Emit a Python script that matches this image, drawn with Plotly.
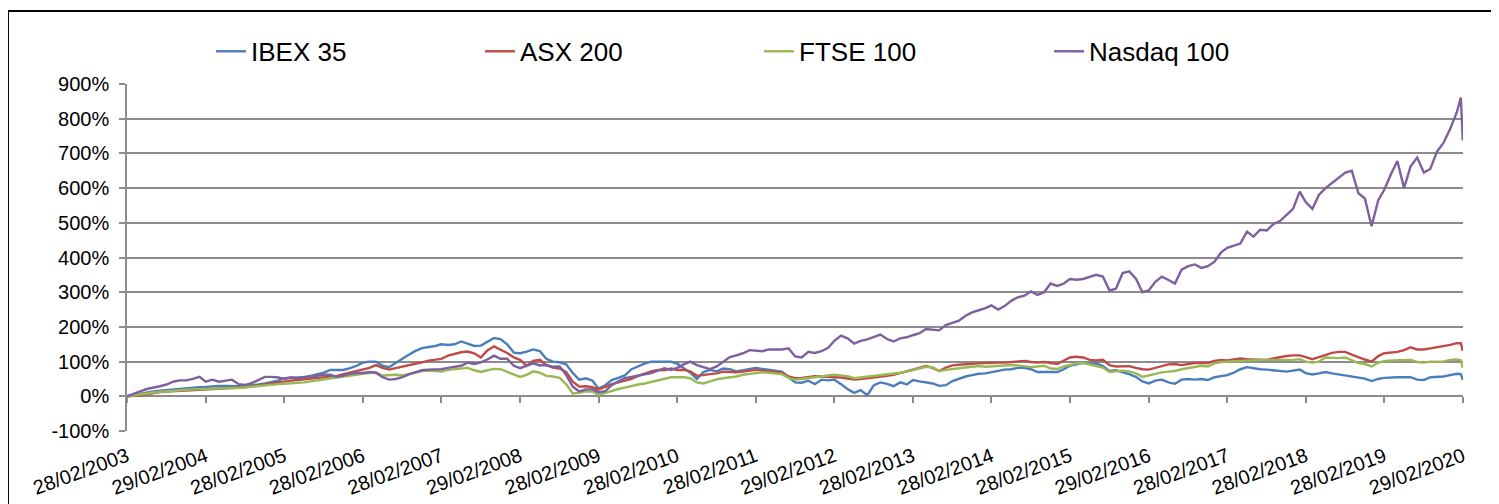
import pandas as pd
import plotly.graph_objects as go

# ---- data (cumulative return, %) ----
# monthly closes from 28/02/2003 to 28/02/2020, plus the 19/02/2020 peak
dates = list(pd.date_range("2003-03-01", periods=205, freq="MS") - pd.Timedelta(days=1))
dates[-1] = pd.Timestamp("2020-02-28")
dates.insert(len(dates) - 1, pd.Timestamp("2020-02-19"))

ibex35 = [
    0, 4, 8, 11, 14, 16, 18, 20, 21, 23,
    25, 26, 27, 29, 30, 30, 29, 29, 30, 31,
    34, 37, 41, 45, 52, 53, 54, 55, 59, 63,
    68, 76, 75, 76, 81, 88, 97, 100, 100, 88,
    84, 95, 108, 120, 131, 139, 142, 145, 150, 148,
    150, 158, 152, 145, 146, 156, 168, 165, 150, 126,
    124, 129, 135, 130, 108, 100, 98, 92, 67, 48,
    52, 45, 22, 32, 47, 53, 60, 78, 87, 94,
    100, 100, 100, 100, 94, 80, 68, 50, 70, 76,
    72, 80, 78, 72, 75, 80, 82, 79, 76, 74,
    71, 55, 40, 39, 45, 35, 48, 46, 48, 35,
    21, 10, 18, 3, 32, 40, 36, 29, 40, 34,
    47, 43, 40, 37, 30, 32, 44, 51, 57, 61,
    65, 66, 69, 74, 77, 78, 82, 82, 78, 70,
    70, 70, 70, 78, 88, 92, 97, 93, 95, 87,
    73, 75, 70, 64, 56, 43, 37, 45, 48, 40,
    36, 48, 50, 48, 50, 47, 55, 58, 61, 68,
    78, 84, 80, 78, 77, 75, 71, 71, 74, 77,
    67, 63, 66, 70, 66, 63, 61, 56, 54, 51,
    44, 50, 53, 55, 55, 55, 55, 48, 47, 55,
    55, 57, 61, 65, 64, 47,
]
asx200 = [
    0, 1, 2, 6, 10, 12, 14, 15, 16, 17,
    18, 19, 19, 20, 21, 22, 23, 24, 26, 29,
    32, 35, 38, 40, 43, 45, 47, 49, 52, 54,
    56, 58, 59, 64, 69, 74, 77, 82, 90, 82,
    77, 81, 86, 90, 94, 98, 103, 106, 108, 117,
    122, 127, 129, 124, 112, 132, 144, 135, 125, 112,
    105, 88, 102, 105, 90, 83, 80, 70, 42, 28,
    29, 26, 20, 27, 35, 40, 44, 50, 59, 66,
    72, 76, 75, 80, 76, 76, 72, 59, 62, 64,
    66, 71, 70, 69, 71, 74, 76, 74, 72, 70,
    68, 57, 52, 53, 55, 58, 57, 55, 55, 54,
    50, 48, 50, 52, 54, 56, 59, 62, 67, 71,
    75, 80, 87, 82, 73, 83, 89, 91, 93, 94,
    95, 96, 97, 97, 97, 99, 100, 102, 99, 97,
    99, 97, 93, 103, 112, 114, 112, 105, 103, 105,
    90, 86, 87, 87, 82, 78, 77, 82, 89, 92,
    93, 90, 93, 96, 96, 96, 102, 105, 103, 107,
    109, 107, 107, 107, 105, 109, 113, 116, 118, 118,
    113, 107, 113, 120, 125, 128, 128, 120, 112, 106,
    100, 116, 124, 126, 128, 133, 141, 135, 135, 138,
    141, 144, 148, 153, 153, 131,
]
ftse100 = [
    0, 2, 5, 8, 11, 13, 15, 17, 18, 19,
    20, 21, 21, 22, 23, 23, 24, 24, 26, 29,
    30, 32, 33, 35, 36, 37, 39, 40, 43, 46,
    48, 51, 53, 56, 59, 62, 65, 67, 69, 60,
    61, 62, 60, 65, 69, 73, 74, 72, 71, 76,
    78, 80, 82, 75, 70, 75, 79, 78, 70, 62,
    56, 62, 72, 68, 59, 57, 53, 35, 8, 10,
    14, 14, 4, 10, 16, 21, 25, 30, 34, 37,
    41, 46, 51, 55, 55, 55, 52, 40, 37, 44,
    49, 52, 54, 57, 62, 65, 68, 69, 68, 66,
    64, 53, 48, 50, 52, 55, 58, 60, 62, 60,
    58, 52, 54, 56, 59, 61, 63, 66, 68, 71,
    75, 80, 85, 84, 72, 76, 79, 81, 83, 85,
    87, 85, 86, 88, 89, 90, 89, 87, 84, 86,
    88, 80, 79, 86, 90, 95, 96, 92, 88, 83,
    70, 71, 74, 72, 66, 56, 60, 66, 69, 71,
    73, 78, 82, 86, 88, 86, 95, 99, 100, 102,
    103, 104, 105, 105, 105, 105, 105, 103, 105, 107,
    100, 97, 100, 112, 111, 110, 112, 103, 96, 93,
    86, 97, 101, 103, 104, 105, 105, 99, 97, 100,
    100, 100, 105, 106, 104, 82,
]
nasdaq100 = [
    0, 8, 14, 21, 26, 29, 34, 42, 46, 46,
    50, 56, 42, 48, 42, 44, 48, 35, 33, 38,
    46, 56, 56, 54, 50, 55, 52, 56, 56, 60,
    62, 62, 56, 60, 65, 67, 67, 70, 68, 55,
    48, 50, 55, 63, 70, 75, 77, 78, 78, 82,
    86, 88, 97, 93, 98, 106, 117, 108, 108, 88,
    81, 89, 95, 89, 90, 85, 86, 62, 28, 14,
    20, 20, 12, 15, 32, 43, 52, 56, 60, 64,
    67, 74, 81, 76, 82, 92, 100, 90, 84, 78,
    86, 100, 113, 118, 124, 133, 131, 130, 135, 134,
    135, 138, 115, 112, 128, 125, 130, 140, 160, 175,
    167, 152, 160, 164, 172, 178, 165, 158, 167, 170,
    176, 182, 194, 192, 190, 205, 212, 218, 232, 242,
    248, 254, 262, 250, 260, 275, 285, 290, 302, 292,
    300, 325, 318, 325, 338, 336, 338, 343, 350, 345,
    305, 310, 355, 360, 340, 300, 305, 330, 345, 335,
    325, 365, 375, 380, 370, 375, 388, 415, 428, 434,
    440, 475, 460, 480, 478, 496, 505, 522, 540, 590,
    560, 540, 580, 600, 615, 632, 645, 650, 585, 570,
    490, 565, 595, 640, 678, 600, 662, 688, 645, 655,
    705, 730, 770, 818, 861, 737,
]

series_names = ["IBEX 35", "ASX 200", "FTSE 100", "Nasdaq 100"]
series_values = [ibex35, asx200, ftse100, nasdaq100]
series_colors = ["#4A7EBB", "#BE4B48", "#98B954", "#7D60A0"]

tick_labels = [
    "28/02/2003", "29/02/2004", "28/02/2005", "28/02/2006", "28/02/2007",
    "29/02/2008", "28/02/2009", "28/02/2010", "28/02/2011", "29/02/2012",
    "28/02/2013", "28/02/2014", "28/02/2015", "29/02/2016", "28/02/2017",
    "28/02/2018", "28/02/2019", "29/02/2020",
]
tick_dates = pd.to_datetime(tick_labels, format="%d/%m/%Y")
y_ticks = list(range(-100, 901, 100))

FONT = "Liberation Sans, Arial, sans-serif"
GRID = "#8C8C8C"

fig = go.Figure()
legend_ids = ["legend", "legend2", "legend3", "legend4"]
for name, vals, col, lg in zip(series_names, series_values, series_colors, legend_ids):
    fig.add_trace(go.Scatter(
        x=dates, y=vals, name=name, mode="lines",
        line=dict(color=col, width=2.4),
        legend=lg, showlegend=True,
    ))

legend_x = [0.0629, 0.2642, 0.4731, 0.6901]
leg_common = dict(orientation="h", y=1.094, yanchor="middle", xanchor="left",
                  bgcolor="rgba(0,0,0,0)", font=dict(family=FONT, size=26, color="black"))
fig.update_layout(
    width=1499, height=504,
    margin=dict(l=119, r=44, t=76, b=81, autoexpand=False),
    paper_bgcolor="white", plot_bgcolor="white",
    font=dict(family=FONT, size=20, color="black"),
    showlegend=True,
    legend=dict(x=legend_x[0], **leg_common),
    legend2=dict(x=legend_x[1], **leg_common),
    legend3=dict(x=legend_x[2], **leg_common),
    legend4=dict(x=legend_x[3], **leg_common),
    xaxis=dict(
        range=[tick_dates[0], tick_dates[-1]],
        tickvals=tick_dates, ticktext=tick_labels, tickangle=-20,
        showgrid=False, zeroline=False, showline=False,
        anchor="free", position=0.1, automargin=False,
        ticks="outside", ticklen=6, tickwidth=1.5, tickcolor=GRID,
        ticklabelstandoff=34,
        tickfont=dict(family=FONT, size=20, color="black"),
    ),
    yaxis=dict(
        range=[-100, 900], tickvals=y_ticks,
        ticktext=[f"{v}%" for v in y_ticks],
        showgrid=True, gridcolor=GRID, gridwidth=1.5, automargin=False,
        zeroline=False, showline=True, linecolor=GRID, linewidth=1.5,
        ticks="outside", ticklen=6, tickwidth=1.5, tickcolor=GRID,
        ticklabelstandoff=6,
        tickfont=dict(family=FONT, size=20, color="black"),
    ),
    shapes=[dict(type="rect", xref="paper", yref="paper",
                 x0=-0.0891, x1=1.04, y0=-0.35, y1=1.2104,
                 line=dict(color="black", width=2), fillcolor="rgba(0,0,0,0)")],
)

fig.write_html("out.html")
